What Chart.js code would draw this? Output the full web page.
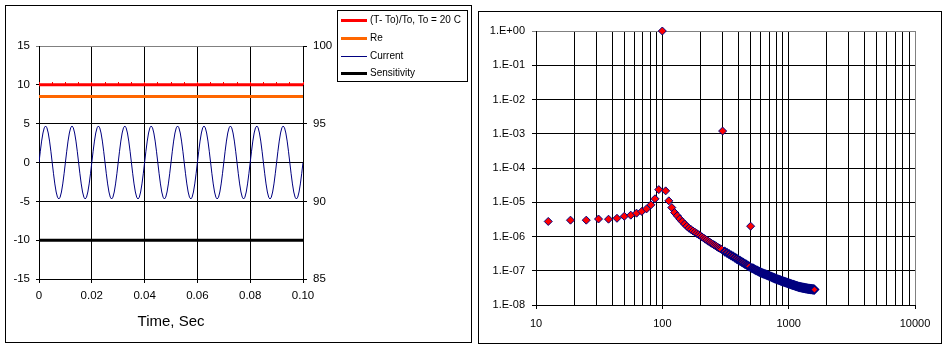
<!DOCTYPE html>
<html>
<head>
<meta charset="utf-8">
<script src="https://cdn.jsdelivr.net/npm/chart.js@4.4.1/dist/chart.umd.min.js"></script>
<style>
  body { margin: 0; background: #fff; }
  #wrap { position: relative; width: 945px; height: 348px; overflow: hidden; }
  #timeChart { position: absolute; left: 0; top: 0; }
  #freqChart { position: absolute; left: 475px; top: 0; }
</style>
</head>
<body>
<div id="wrap">
  <canvas id="timeChart" width="475" height="348"></canvas>
  <canvas id="freqChart" width="470" height="348"></canvas>
</div>
<script>
// ---------- left chart: time signals ----------

// legend labels in drawing order
const seriesLabels = ["(T- To)/To, To = 20 C", "Re", "Current", "Sensitivity"];

// (T-To)/To line, with a marker every 5 ms
const tempTime = [0, 0.005, 0.01, 0.015, 0.02, 0.025, 0.03, 0.035, 0.04, 0.045, 0.05,
    0.055, 0.06, 0.065, 0.07, 0.075, 0.08, 0.085, 0.09, 0.095, 0.1];
const tempValues = [10, 10, 10, 10, 10, 10, 10, 10, 10, 10, 10,
    10, 10, 10, 10, 10, 10, 10, 10, 10, 10];

// Re, read on the right axis
const reTime = [0, 0.1];
const reValues = [96.75, 96.75];

// sensitivity, flat
const sensTime = [0, 0.1];
const sensValues = [-10, -10];

// current, sampled every 0.5 ms
const currentStep = 0.0005;
const currentValues = [
    0, 1.45, 2.76, 3.8, 4.47, 4.7, 4.47, 3.8, 2.76, 1.45, 0, -1.45, -2.76, -3.8, -4.47, -4.7, -4.47, -3.8, -2.76, -1.45,
    0, 1.45, 2.76, 3.8, 4.47, 4.7, 4.47, 3.8, 2.76, 1.45, 0, -1.45, -2.76, -3.8, -4.47, -4.7, -4.47, -3.8, -2.76, -1.45,
    0, 1.45, 2.76, 3.8, 4.47, 4.7, 4.47, 3.8, 2.76, 1.45, 0, -1.45, -2.76, -3.8, -4.47, -4.7, -4.47, -3.8, -2.76, -1.45,
    0, 1.45, 2.76, 3.8, 4.47, 4.7, 4.47, 3.8, 2.76, 1.45, 0, -1.45, -2.76, -3.8, -4.47, -4.7, -4.47, -3.8, -2.76, -1.45,
    0, 1.45, 2.76, 3.8, 4.47, 4.7, 4.47, 3.8, 2.76, 1.45, 0, -1.45, -2.76, -3.8, -4.47, -4.7, -4.47, -3.8, -2.76, -1.45,
    0, 1.45, 2.76, 3.8, 4.47, 4.7, 4.47, 3.8, 2.76, 1.45, 0, -1.45, -2.76, -3.8, -4.47, -4.7, -4.47, -3.8, -2.76, -1.45,
    0, 1.45, 2.76, 3.8, 4.47, 4.7, 4.47, 3.8, 2.76, 1.45, 0, -1.45, -2.76, -3.8, -4.47, -4.7, -4.47, -3.8, -2.76, -1.45,
    0, 1.45, 2.76, 3.8, 4.47, 4.7, 4.47, 3.8, 2.76, 1.45, 0, -1.45, -2.76, -3.8, -4.47, -4.7, -4.47, -3.8, -2.76, -1.45,
    0, 1.45, 2.76, 3.8, 4.47, 4.7, 4.47, 3.8, 2.76, 1.45, 0, -1.45, -2.76, -3.8, -4.47, -4.7, -4.47, -3.8, -2.76, -1.45,
    0, 1.45, 2.76, 3.8, 4.47, 4.7, 4.47, 3.8, 2.76, 1.45, 0, -1.45, -2.76, -3.8, -4.47, -4.7, -4.47, -3.8, -2.76, -1.45,
    0
];

// ---------- right chart: response vs frequency ----------

const freq = [
    12.5, 18.75, 25, 31.25, 37.5, 43.75, 50, 56.25, 62.5, 68.75, 75, 81.25, 87.5, 93.75, 100, 106.25, 112.5, 118.75,
    125, 131.25, 137.5, 143.75, 150, 156.25, 162.5, 168.75, 175, 181.25, 187.5, 193.75, 200, 206.25, 212.5, 218.75,
    225, 231.25, 237.5, 243.75, 250, 256.25, 262.5, 268.75, 275, 281.25, 287.5, 293.75, 300,
    312.5, 325, 337.5, 350, 362.5, 375, 387.5, 400, 412.5, 425, 437.5, 450, 462.5, 475, 487.5, 500,
    512.5, 525, 537.5, 550, 562.5, 575, 587.5, 600, 612.5, 625, 637.5, 650, 662.5, 675, 687.5, 700,
    712.5, 725, 737.5, 750, 762.5, 775, 787.5, 800, 812.5, 825, 837.5, 850, 862.5, 875, 887.5, 900,
    912.5, 925, 937.5, 950, 962.5, 975, 987.5, 1000, 1012.5, 1025, 1037.5, 1050, 1062.5, 1075, 1087.5, 1100,
    1112.5, 1125, 1137.5, 1150, 1162.5, 1175, 1187.5, 1200, 1212.5, 1225, 1237.5, 1250, 1262.5, 1275, 1287.5, 1300,
    1312.5, 1325, 1337.5, 1350, 1362.5, 1375, 1387.5, 1400, 1412.5, 1425, 1437.5, 1450, 1462.5, 1475, 1487.5, 1500,
    1512.5, 1525, 1537.5, 1550, 1562.5, 1575, 1587.5, 1600
];
const magnitude = [
    2.75e-6, 3.0e-6, 3.0e-6, 3.24e-6, 3.2e-6, 3.4e-6, 3.9e-6, 4.2e-6, 4.8e-6, 5.4e-6, 6.4e-6, 8.4e-6, 1.26e-5, 2.34e-5, 1.0, 2.15e-5, 1.1e-5, 7.0e-6,
    5.0e-6, 4.03e-6, 3.27e-6, 2.73e-6, 2.32e-6, 1.99e-6, 1.75e-6, 1.59e-6, 1.45e-6, 1.33e-6, 1.22e-6, 1.13e-6, 1.05e-6, 9.7e-7, 9.0e-7, 8.37e-7,
    7.82e-7, 7.29e-7, 6.84e-7, 6.41e-7, 6.03e-7, 5.69e-7, 5.40e-7, 5.11e-7, 4.85e-7, 4.61e-7, 4.39e-7, 4.18e-7, 1.2e-3,
    3.63e-7, 3.33e-7, 3.05e-7, 2.82e-7, 2.61e-7, 2.42e-7, 2.24e-7, 2.09e-7, 1.95e-7, 1.82e-7, 1.71e-7, 1.60e-7, 1.50e-7, 1.42e-7, 1.33e-7, 2.0e-6,
    1.20e-7, 1.15e-7, 1.10e-7, 1.05e-7, 1.01e-7, 9.66e-8, 9.29e-8, 8.91e-8, 8.65e-8, 8.39e-8, 8.15e-8, 7.91e-8, 7.69e-8, 7.48e-8, 7.28e-8, 7.08e-8,
    6.89e-8, 6.70e-8, 6.53e-8, 6.35e-8, 6.19e-8, 6.04e-8, 5.90e-8, 5.75e-8, 5.64e-8, 5.52e-8, 5.41e-8, 5.30e-8, 5.19e-8, 5.09e-8, 4.99e-8, 4.90e-8,
    4.81e-8, 4.72e-8, 4.65e-8, 4.56e-8, 4.49e-8, 4.41e-8, 4.34e-8, 4.27e-8, 4.20e-8, 4.13e-8, 4.07e-8, 4.01e-8, 3.95e-8, 3.89e-8, 3.84e-8, 3.78e-8,
    3.73e-8, 3.67e-8, 3.62e-8, 3.57e-8, 3.53e-8, 3.48e-8, 3.44e-8, 3.39e-8, 3.37e-8, 3.33e-8, 3.31e-8, 3.29e-8, 3.26e-8, 3.24e-8, 3.21e-8, 3.19e-8,
    3.17e-8, 3.15e-8, 3.13e-8, 3.10e-8, 3.08e-8, 3.06e-8, 3.04e-8, 3.02e-8, 3.01e-8, 2.99e-8, 2.98e-8, 2.97e-8, 2.95e-8, 2.94e-8, 2.92e-8, 2.91e-8,
    2.90e-8, 2.89e-8, 2.88e-8, 2.86e-8, 2.85e-8, 2.84e-8, 2.83e-8, 2.82e-8
];

// axis decades
const freqDecades = [10, 100, 1000, 10000];
const magDecades = [1e-8, 1e-7, 1e-6, 1e-5, 1e-4, 1e-3, 1e-2, 1e-1, 1];

Chart.defaults.font.family = "Arial, 'Liberation Sans', sans-serif";
Chart.defaults.color = '#000';

// pair two arrays into {x, y} points
function toPoints (xs, ys) { return xs.map((x, i) => ({ x: x, y: ys[i] })); }

// is the value a power of ten
function isDecade (v) { const l = Math.log10(v); return Math.abs(l - Math.round(l)) < 1e-9; }

// 1.E-05 style label
function expLabel (v) {
    const e = Math.round(Math.log10(v));
    return '1.E' + (e < 0 ? '-' : '+') + String(Math.abs(e)).padStart(2, '0');
}

// gridlines 10,20..90,100,200.. for the log x axis
function freqGridTicks () {
    let ticks = [];
    for (let i = 0; i < freqDecades.length - 1; i++) {
        for (let m = 1; m < 10; m++) { ticks.push({ value: freqDecades[i] * m }); }
    }
    ticks.push({ value: freqDecades[freqDecades.length - 1] });
    return ticks;
}

// small red tick used as marker on the temperature line
const tickMark = document.createElement('canvas');
tickMark.width = 1; tickMark.height = 6;
const tickCtx = tickMark.getContext('2d');
tickCtx.fillStyle = '#ff0000'; tickCtx.fillRect(0, 0, 1, 3);

// outer frame of each panel
function panelFrame (x, y, w, h) {
    return {
        id: 'panelFrame',
        beforeDraw(chart) {
            const ctx = chart.ctx;
            ctx.save(); ctx.fillStyle = '#fff'; ctx.fillRect(0, 0, chart.width, chart.height);
            ctx.strokeStyle = '#000'; ctx.lineWidth = 1; ctx.strokeRect(x, y, w, h); ctx.restore();
        }
    };
}

// legend box to the right of the left chart
const legendBox = {
    id: 'legendBox',
    afterDraw(chart) {
        const ctx = chart.ctx;
        ctx.save();
        ctx.strokeStyle = '#000'; ctx.lineWidth = 1;
        ctx.strokeRect(337.5, 10.5, 130, 71);
        ctx.font = "10px Arial, 'Liberation Sans', sans-serif";
        ctx.textBaseline = 'middle'; ctx.fillStyle = '#000';
        chart.data.datasets.forEach((ds, i) => {
            const y = Math.round(20 + i * 17.8) + 0.5;
            ctx.strokeStyle = ds.borderColor; ctx.lineWidth = ds.borderWidth;
            ctx.beginPath(); ctx.moveTo(341, y); ctx.lineTo(367, y); ctx.stroke();
            ctx.fillText(ds.label, 370, y);
        });
        ctx.restore();
    }
};

const timeChart = new Chart('timeChart', {
    type: 'line',
    data: {
        datasets: [
            { label: seriesLabels[0], data: toPoints(tempTime, tempValues), borderColor: '#ff0000', borderWidth: 3,
                pointStyle: tickMark, pointRadius: 2, yAxisID: 'y', clip: false },
            { label: seriesLabels[1], data: toPoints(reTime, reValues), borderColor: '#ff6600', borderWidth: 3,
                pointRadius: 0, yAxisID: 'y2' },
            { label: seriesLabels[2], data: currentValues.map((v, i) => ({ x: i * currentStep, y: v })),
                borderColor: '#000080', borderWidth: 1, pointRadius: 0, yAxisID: 'y' },
            { label: seriesLabels[3], data: toPoints(sensTime, sensValues), borderColor: '#000000', borderWidth: 3,
                pointRadius: 0, yAxisID: 'y' }
        ]
    },
    options: {
        responsive: false, animation: false, devicePixelRatio: 1,
        layout: { padding: { top: 46, right: 142, left: 0, bottom: 0 } },
        elements: { line: { tension: 0 } },
        plugins: { legend: { display: false }, tooltip: { enabled: false } },
        scales: {
            x: {
                type: 'linear', min: 0, max: 0.1,
                ticks: { stepSize: 0.02, padding: 6, maxRotation: 0, font: { size: 11.5 } },
                grid: { color: '#000', tickLength: 4 },
                border: { color: '#000' },
                title: { display: true, text: 'Time, Sec', font: { size: 15 }, padding: { top: 0, bottom: 17 } },
                afterFit: (s) => { s.height = 69; }
            },
            y: {
                position: 'left', min: -15, max: 15,
                ticks: { stepSize: 5, padding: 6, font: { size: 11.5 } },
                grid: { color: (c) => (c.tick && c.tick.value === 15) ? '#808080' : '#000', tickLength: 3 },
                border: { color: '#000' },
                afterFit: (s) => { s.width = 39; }
            },
            y2: {
                position: 'right', min: 85, max: 100,
                ticks: { stepSize: 5, padding: 6, font: { size: 11.5 } },
                grid: { drawOnChartArea: false, color: '#000', tickLength: 4 },
                border: { color: '#000' },
                afterFit: (s) => { s.width = 30; }
            }
        }
    },
    plugins: [panelFrame(5.5, 5.5, 466, 337), legendBox]
});

const freqChart = new Chart('freqChart', {
    type: 'scatter',
    data: {
        datasets: [{
            data: toPoints(freq, magnitude),
            pointStyle: 'rectRot', pointRadius: 4,
            backgroundColor: '#ff0000', borderColor: '#000080',
            // the packed tail reads darker in the original
            borderWidth: (c) => (c.raw && c.raw.x > 300 && c.raw.y < 1e-6) ? 1.6 : 1,
            clip: false
        }]
    },
    options: {
        responsive: false, animation: false, devicePixelRatio: 1,
        layout: { padding: { top: 31, right: 30, left: 0, bottom: 0 } },
        plugins: { legend: { display: false }, tooltip: { enabled: false } },
        scales: {
            x: {
                type: 'logarithmic', min: 10, max: 10000,
                afterBuildTicks: (s) => { s.ticks = freqGridTicks(); },
                ticks: { autoSkip: false, maxRotation: 0, padding: 8, font: { size: 11 },
                    callback: (v) => isDecade(v) ? String(v) : '' },
                grid: {
                    color: (c) => (c.tick && c.tick.value === 10000) ? '#808080' : '#000',
                    tickColor: (c) => (c.tick && isDecade(c.tick.value)) ? '#000' : 'rgba(0,0,0,0)',
                    tickLength: 4
                },
                border: { color: '#000' },
                afterFit: (s) => { s.height = 43; }
            },
            y: {
                type: 'logarithmic', min: 1e-8, max: 1,
                afterBuildTicks: (s) => { s.ticks = magDecades.map((v) => ({ value: v })); },
                ticks: { autoSkip: false, padding: 7, font: { size: 11 }, callback: (v) => expLabel(v) },
                grid: { color: (c) => (c.tick && c.tick.value === 1) ? '#808080' : '#000', tickLength: 4 },
                border: { color: '#000' },
                afterFit: (s) => { s.width = 61; }
            }
        }
    },
    plugins: [panelFrame(3.5, 11.5, 463, 332)]
});
</script>
</body>
</html>
